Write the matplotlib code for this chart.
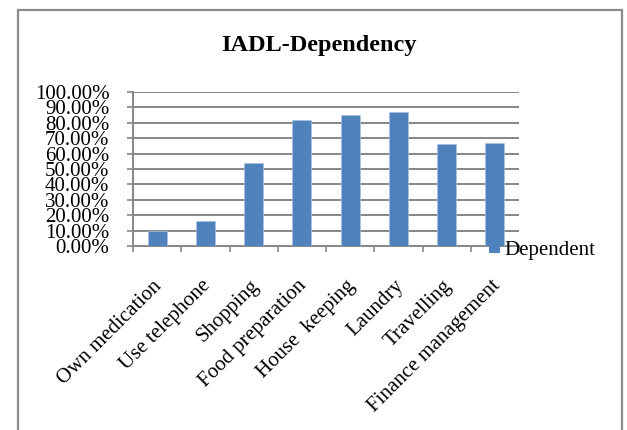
import matplotlib
matplotlib.use("Agg")
import matplotlib.pyplot as plt
from matplotlib.patches import Rectangle
from matplotlib.ticker import FixedLocator, PercentFormatter
import matplotlib.transforms as mtransforms

plt.rcParams['font.family'] = ['Liberation Serif', 'DejaVu Serif']

# data
categories = ["Own medication", "Use telephone", "Shopping", "Food preparation",
              "House  keeping", "Laundry", "Travelling", "Finance management"]
dependent = [0.10, 0.16, 0.54, 0.815, 0.85, 0.868, 0.662, 0.669]
series_name = "Dependent"
chart_title = "IADL-Dependency"

W, H = 627, 430
fig = plt.figure(figsize=(W / 100, H / 100), dpi=100)
fig.patch.set_facecolor("white")

# outer chart frame
frame = Rectangle((18 / W, -0.05), (622 - 18) / W, 1.05 - 10 / H,
                  transform=fig.transFigure, fill=False,
                  edgecolor="#8a8a8a", linewidth=1.6, clip_on=False)
fig.patches.append(frame)

ax = fig.add_axes([133 / W, 1 - 246 / H, 386 / W, 154 / H])

grid_col = "#878787"
x = list(range(len(categories)))
ax.bar(x, dependent, width=0.39, color="#4F81BD", edgecolor="#a9c2e0",
       linewidth=0.5, zorder=3)

ax.set_xlim(-0.5, len(categories) - 0.5)
ax.set_ylim(0, 1.0)

# y axis
ax.yaxis.set_major_locator(FixedLocator([i / 10 for i in range(11)]))
ax.yaxis.set_major_formatter(PercentFormatter(1.0, decimals=2))
ax.yaxis.grid(True, color=grid_col, linewidth=1.4, zorder=0)
ax.tick_params(axis="y", direction="out", length=4, width=1.2, color=grid_col,
               pad=13, labelsize=15)

# x axis: tick marks at category boundaries, labels at centres
ax.set_xticks(x)
ax.set_xticklabels(categories, rotation=45, ha="right", va="top", fontsize=15)
ax.set_xticks([i - 0.5 for i in range(len(categories) + 1)], minor=True)
ax.tick_params(axis="x", which="major", length=0, pad=22)
ax.tick_params(axis="x", which="minor", direction="out", length=4.5, width=1.2,
               color=grid_col)
offset = mtransforms.ScaledTranslation(9 / 100, 0, fig.dpi_scale_trans)
for lbl in ax.get_xticklabels():
    lbl.set_transform(lbl.get_transform() + offset)

for s in ["top", "right"]:
    ax.spines[s].set_visible(False)
for s in ["left", "bottom"]:
    ax.spines[s].set_color(grid_col)
    ax.spines[s].set_linewidth(1.4)
ax.set_axisbelow(True)

fig.text(319 / W, 1 - 46 / H, chart_title, ha="center", va="center",
         fontsize=17.5, fontweight="bold")

handle = Rectangle((0, 0), 1, 1, facecolor="#4F81BD", edgecolor="none")
fig.legend([handle], [series_name], loc="center left",
           bbox_to_anchor=(489 / W, 1 - 250 / H),
           frameon=False, fontsize=15, handlelength=0.55, handleheight=0.55,
           handletextpad=0.2, borderpad=0, borderaxespad=0)

fig.savefig("out.png", dpi=100)
